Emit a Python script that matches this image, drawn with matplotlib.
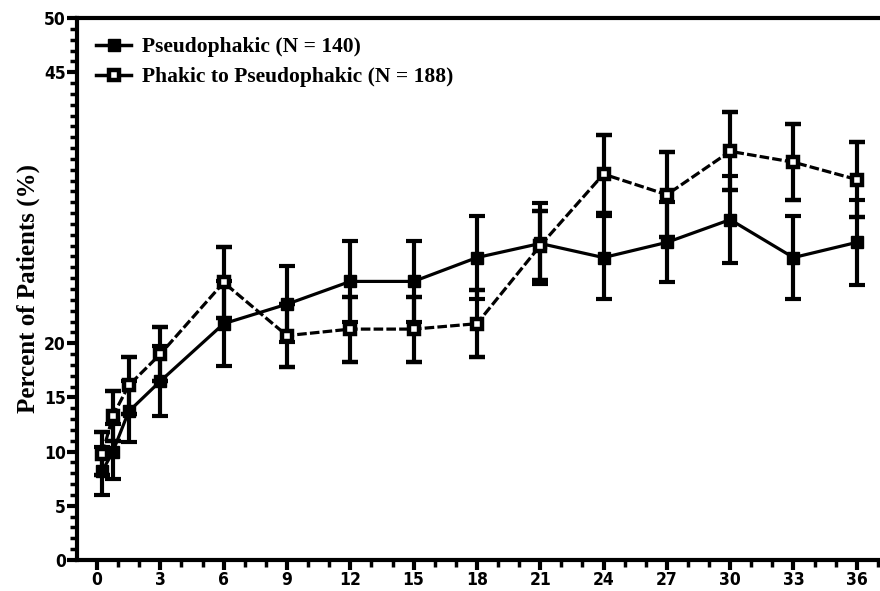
import matplotlib
matplotlib.use("Agg")
import matplotlib.pyplot as plt
from matplotlib.lines import Line2D
import numpy as np

# months after baseline
months = [0.25, 0.75, 1.5, 3, 6, 9, 12, 15, 18, 21, 24, 27, 30, 33, 36]

# Pseudophakic (N = 140)
pseudo = [8.2, 10.0, 13.7, 16.5, 21.8, 23.6, 25.7, 25.7, 27.9, 29.2, 27.9, 29.3, 31.4, 27.9, 29.3]
pseudo_err = [2.2, 2.5, 2.8, 3.2, 3.9, 3.5, 3.7, 3.7, 3.8, 3.7, 3.8, 3.7, 4.0, 3.8, 3.9]

# Phakic to Pseudophakic (N = 188)
phakic = [9.8, 13.3, 16.1, 19.0, 25.6, 20.7, 21.3, 21.3, 21.8, 29.0, 35.6, 33.7, 37.7, 36.7, 35.1]
phakic_err = [2.0, 2.3, 2.6, 2.5, 3.3, 2.9, 3.0, 3.0, 3.1, 3.2, 3.6, 3.9, 3.6, 3.5, 3.5]

labels = ["Pseudophakic (N = 140)", "Phakic to Pseudophakic (N = 188)"]
ytick_vals = [0, 5, 10, 15, 20, 45, 50]
xtick_vals = list(range(0, 37, 3))

serif = "Liberation Serif"
tick_font = dict(family="DejaVu Sans", weight="bold", stretch="condensed", size=12.5)

fig = plt.figure(figsize=(8.8, 5.91), dpi=100)
ax = fig.add_axes([0.0875, 0.0525, 0.9125, 0.917])

common = dict(color="black", marker="s", lw=2.3,
              elinewidth=3, capsize=5.5, capthick=3, zorder=3)

ax.errorbar(months, pseudo, yerr=pseudo_err, linestyle="-", markersize=9,
            markerfacecolor="black", markeredgecolor="black", **common)
ax.errorbar(months, phakic, yerr=phakic_err, linestyle=(0, (3, 1)), markersize=7,
            markerfacecolor="white", markeredgecolor="black", markeredgewidth=3.2,
            **common)

ax.set_xlim(-0.95, 37.1)
ax.set_ylim(0, 50)

ax.set_yticks(ytick_vals)
ax.set_yticks(np.arange(0, 51, 1), minor=True)
ax.set_xticks(xtick_vals)
ax.set_xticks(np.arange(0, 38, 1), minor=True)

ax.set_yticklabels([str(v) for v in ytick_vals], fontdict=tick_font)
ax.set_xticklabels([str(v) for v in xtick_vals], fontdict=tick_font)

ax.tick_params(which="major", length=7, width=3, direction="out")
ax.tick_params(which="minor", length=5, width=2.5, direction="out")
ax.tick_params(axis="y", which="major", pad=1)
ax.tick_params(axis="x", which="major", pad=1)

for s in ["left", "bottom", "top"]:
    ax.spines[s].set_linewidth(3)
ax.spines["right"].set_visible(False)

ax.set_ylabel("Percent of Patients (%)", family=serif, weight="bold", size=18, labelpad=3)

handles = [
    Line2D([], [], color="black", lw=2.5, marker="s", markersize=9,
           markerfacecolor="black"),
    Line2D([], [], color="black", lw=2.5, marker="s", markersize=7,
           markerfacecolor="white", markeredgewidth=3.2),
]
ax.legend(handles, labels, loc="upper left", bbox_to_anchor=(0.0, 1.0), frameon=False,
          prop=dict(family=serif, weight="bold", size=15.5),
          handlelength=1.6, handletextpad=0.5, labelspacing=0.45)

fig.savefig("out.png", dpi=100)
plt.close(fig)
